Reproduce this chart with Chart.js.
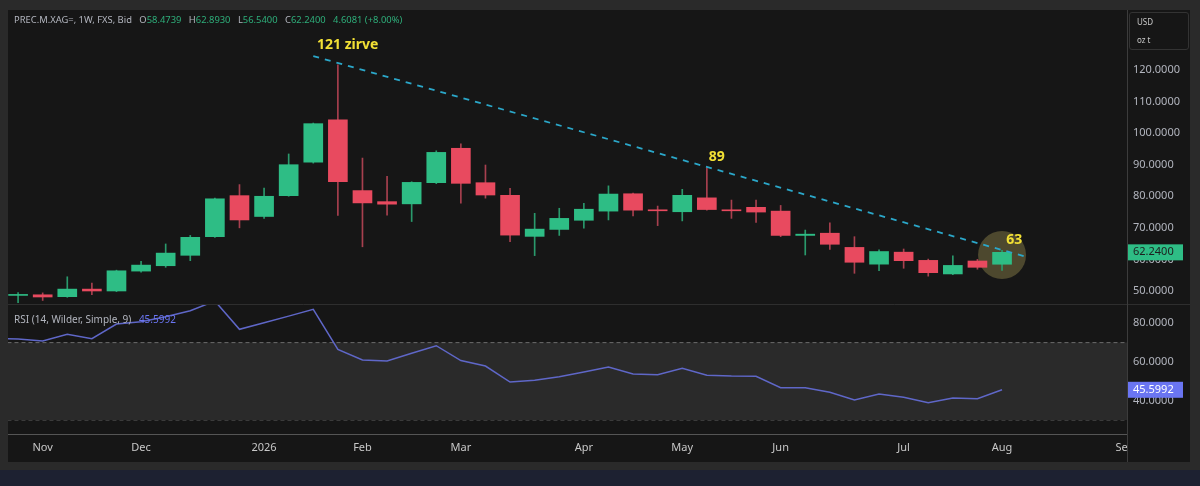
<!DOCTYPE html>
<html>
<head>
<meta charset="utf-8">
<script src="https://cdn.jsdelivr.net/npm/chart.js@4.4.1/dist/chart.umd.min.js"></script>
<style>
  html, body { margin: 0; padding: 0; background: #2a2a2a; }
  #wrap { position: relative; width: 1200px; height: 486px; overflow: hidden; font-family: "Noto Sans", sans-serif; }
  #chart { position: absolute; left: 0; top: 0; }
  .legend { position: absolute; left: 14px; font-size: 9.4px; color: #b2b5be; white-space: nowrap; }
  .legend span { margin-left: 5px; }
  .legend .g { color: #2eae7a; margin-left: 0; font-weight: normal; }
  .legend .b { color: #6a75f2; }
  #unit { position: absolute; left: 1129px; top: 12px; width: 58px; height: 36px; border: 1px solid #333; border-radius: 3px; font-size: 8px; color: #c8c8c8; }
  #unit div { position: absolute; left: 7px; }
</style>
</head>
<body>
<div id="wrap">
  <canvas id="chart" width="1200" height="486"></canvas>
  <div class="legend" style="top:13px">PREC.M.XAG=, 1W, FXS, Bid
    <span>O<b class="g">58.4739</b></span>
    <span>H<b class="g">62.8930</b></span>
    <span>L<b class="g">56.5400</b></span>
    <span>C<b class="g">62.2400</b></span>
    <span class="g" style="margin-left:5px">4.6081 (+8.00%)</span>
  </div>
  <div class="legend" style="top:312px; font-size:10px">RSI (14, Wilder, Simple, 9) <span class="b">45.5992</span></div>
  <div id="unit"><div style="top:3px">USD</div><div style="top:21px">oz t</div></div>
</div>
<script>
(function () {
  'use strict';

  // weekly candles, week start dates
  const weeks = [
    '2025-10-27', '2025-11-03', '2025-11-10', '2025-11-17', '2025-11-24',
    '2025-12-01', '2025-12-08', '2025-12-15', '2025-12-22', '2025-12-29',
    '2026-01-05', '2026-01-12', '2026-01-19', '2026-01-26', '2026-02-02',
    '2026-02-09', '2026-02-16', '2026-02-23', '2026-03-02', '2026-03-09',
    '2026-03-16', '2026-03-23', '2026-03-30', '2026-04-06', '2026-04-13',
    '2026-04-20', '2026-04-27', '2026-05-04', '2026-05-11', '2026-05-18',
    '2026-05-25', '2026-06-01', '2026-06-08', '2026-06-15', '2026-06-22',
    '2026-06-29', '2026-07-06', '2026-07-13', '2026-07-20', '2026-07-27',
    '2026-08-03'
  ];
  const opens = [48.6, 48.8, 48.2, 50.6, 50.0, 56.3, 58.0, 61.3, 67.2, 80.2,
    73.6, 80.2, 90.8, 104.2, 81.8, 78.3, 77.6, 84.3, 95.2, 84.3,
    80.3, 67.3, 69.5, 72.4, 75.3, 80.8, 75.7, 75.1, 79.5, 75.7,
    76.5, 75.3, 67.6, 68.3, 63.8, 58.5, 62.3, 59.7, 55.4, 59.5, 58.4739];
  const highs = [49.5, 49.4, 54.5, 52.5, 56.6, 59.4, 64.9, 67.6, 79.4, 83.7,
    82.6, 93.4, 103.2, 121.6, 92.1, 86.3, 84.6, 94.4, 96.6, 89.9,
    82.5, 74.6, 76.2, 77.8, 83.3, 81.0, 76.9, 82.2, 89.1, 78.8,
    78.8, 77.1, 69.3, 71.6, 67.2, 63.0, 63.3, 60.1, 61.1, 60.0, 62.893];
  const lows = [46.3, 47.0, 48.0, 48.8, 49.8, 56.0, 57.5, 59.6, 67.0, 70.0,
    73.0, 80.0, 90.5, 73.9, 64.0, 74.0, 72.0, 84.0, 77.8, 79.4,
    65.6, 61.2, 67.6, 69.9, 72.5, 73.8, 70.7, 72.2, 75.6, 73.0,
    71.7, 67.2, 61.4, 63.2, 55.6, 56.4, 57.2, 54.7, 55.2, 56.9, 56.54];
  const closes = [48.9, 48.1, 50.6, 50.0, 56.4, 58.2, 62.0, 67.0, 79.2, 72.5,
    80.0, 90.0, 103.0, 84.6, 77.9, 77.5, 84.4, 93.9, 84.1, 80.4,
    67.7, 69.6, 73.0, 75.9, 80.7, 75.6, 75.4, 80.3, 75.8, 75.4,
    75.0, 67.6, 68.0, 64.8, 59.1, 62.5, 59.6, 55.8, 58.1, 57.5, 62.24];

  // RSI(14): first value belongs to the week before weeks[0]
  const rsi = [72.1, 71.9, 70.8, 74.3, 72.0, 79.6, 80.8, 83.4, 86.5, 91.5, 76.9,
    80.3, 83.7, 87.2, 66.5, 61.0, 60.5, 64.5, 68.4, 60.7, 57.9,
    49.6, 50.5, 52.4, 54.8, 57.4, 53.8, 53.4, 56.7, 53.1, 52.7,
    52.6, 46.7, 46.7, 44.3, 40.3, 43.4, 41.7, 38.9, 41.4, 41.0, 45.6];
  const rsiLast = 45.5992;
  const rsiBands = [70, 30];

  // x axis: month labels sit on the first weekly bar of each month
  const monthTicks = [1, 5, 10, 14, 18, 23, 27, 31, 36, 40, 45];
  const monthLabels = ['Nov', 'Dec', '2026', 'Feb', 'Mar', 'Apr', 'May', 'Jun', 'Jul', 'Aug', 'Sep'];
  const priceTicks = [50, 60, 70, 80, 90, 100, 110, 120];
  const rsiTicks = [40, 60, 80];

  // drawn trend line (week index, price) and text notes
  const trendWeeks = [12, 41];
  const trendPrices = [124.4, 60.8];
  const notes = [
    { text: '121 zirve', week: 13.4, price: 127.9 },
    { text: '89', week: 28.4, price: 92.4 },
    { text: '63', week: 40.5, price: 66.1 }
  ];

  const UP = '#2ebd85', DOWN = '#e84a5f';
  const UP_WICK = '#2a9a6c', DOWN_WICK = '#a8404f';
  const FONT = '"Noto Sans", sans-serif';
  const PRICE_H = 294, RSI_H = 130;   // pane heights in px

  const isUp = closes.map((c, i) => c >= opens[i]);
  const bodies = weeks.map((w, i) => ({ x: i, y: [opens[i], closes[i]] }));
  const wicks = weeks.map((w, i) => ({ x: i, y: [lows[i], highs[i]] }));
  const rsiPts = rsi.map((v, i) => ({ x: i - 1, y: v }));

  const frame = {
    id: 'frame',
    beforeDraw(chart) {
      const c = chart.ctx;
      c.save();
      c.fillStyle = '#2a2a2a';
      c.fillRect(0, 0, 1200, 486);
      c.fillStyle = '#1d2131';
      c.fillRect(0, 470, 1200, 16);
      c.fillStyle = '#161616';
      c.fillRect(8, 10, 1182, 452);
      c.restore();
    },
    afterDatasetsDraw(chart) {
      const c = chart.ctx, xs = chart.scales.x, ys = chart.scales.y;
      c.save();
      c.fillStyle = '#f2e035';
      c.font = 'bold 14px ' + FONT;
      c.textAlign = 'center';
      c.textBaseline = 'middle';
      notes.forEach(n => c.fillText(n.text, xs.getPixelForValue(n.week), ys.getPixelForValue(n.price)));
      c.restore();
    },
    afterDraw(chart) {
      const c = chart.ctx, a = chart.chartArea;
      const ys = chart.scales.y, y2 = chart.scales.y2;
      const split = Math.round(ys.bottom);
      c.save();
      // cut the last month label at the plot edge
      c.fillStyle = '#161616';
      c.fillRect(a.right + 1, a.bottom + 1, 1190 - a.right - 1, 462 - a.bottom - 1);
      c.lineWidth = 1;
      c.strokeStyle = '#2e2e2e';
      c.beginPath();
      c.moveTo(8, split + 0.5);
      c.lineTo(1190, split + 0.5);
      c.stroke();
      c.strokeStyle = '#3c3c3c';
      c.beginPath();
      c.moveTo(a.right + 0.5, 10);
      c.lineTo(a.right + 0.5, 462);
      c.stroke();

      // last value tags
      c.font = '11px ' + FONT;
      c.textBaseline = 'middle';
      const last = closes[closes.length - 1];
      let py = ys.getPixelForValue(last);
      c.fillStyle = UP;
      c.fillRect(a.right + 1, py - 8, 55, 16);
      c.fillStyle = '#1e1e1e';
      c.fillText(last.toFixed(4), a.right + 6, py);
      py = y2.getPixelForValue(rsi[rsi.length - 1]);
      c.fillStyle = '#6a75f2';
      c.fillRect(a.right + 1, py - 8, 55, 16);
      c.fillStyle = '#ffffff';
      c.fillText(rsiLast.toFixed(4), a.right + 6, py);
      c.restore();
    }
  };

  const tickFont = { family: FONT, size: 11 };
  const noPadV = s => { s.width = 63; s.paddingTop = 0; s.paddingBottom = 0; };

  new Chart(document.getElementById('chart'), {
    type: 'bar',
    data: {
      datasets: [
        {
          type: 'line', data: trendWeeks.map((w, i) => ({ x: w, y: trendPrices[i] })),
          borderColor: '#2ba7c9', borderWidth: 1.8, borderDash: [6, 6],
          pointRadius: 0, yAxisID: 'y', order: 1
        },
        {
          data: bodies, backgroundColor: isUp.map(u => u ? UP : DOWN),
          barThickness: 19, grouped: false, minBarLength: 1, yAxisID: 'y', order: 2
        },
        {
          data: wicks, backgroundColor: isUp.map(u => u ? UP_WICK : DOWN_WICK),
          barThickness: 1, grouped: false, yAxisID: 'y', order: 3
        },
        {
          type: 'bubble', data: [{ x: 40, y: 61.4, r: 24 }],
          backgroundColor: 'rgba(175,160,90,0.36)', borderWidth: 0,
          yAxisID: 'y', order: 10
        },
        {
          type: 'line', data: rsiPts, borderColor: '#5f67c8', borderWidth: 1.5,
          pointRadius: 0, tension: 0, yAxisID: 'y2', order: 4
        },
        {
          type: 'line', data: [{ x: -1, y: rsiBands[0] }, { x: 46, y: rsiBands[0] }],
          borderColor: '#6b6b6b', borderWidth: 1, borderDash: [4, 3],
          backgroundColor: '#2a2a2a', fill: '+1',
          pointRadius: 0, yAxisID: 'y2', order: 20
        },
        {
          type: 'line', data: [{ x: -1, y: rsiBands[1] }, { x: 46, y: rsiBands[1] }],
          borderColor: '#6b6b6b', borderWidth: 1, borderDash: [4, 3],
          pointRadius: 0, yAxisID: 'y2', order: 21
        }
      ]
    },
    options: {
      responsive: false,
      animation: false,
      devicePixelRatio: 1,
      layout: { autoPadding: false, padding: { left: 8, top: 10, right: 10, bottom: 24 } },
      plugins: { legend: { display: false }, tooltip: { enabled: false } },
      scales: {
        x: {
          type: 'linear', position: 'bottom', offset: false, min: -0.41, max: 45.08,
          afterFit: s => { s.height = 28; s.paddingLeft = 0; s.paddingRight = 0; },
          afterBuildTicks: s => { s.ticks = monthTicks.map(v => ({ value: v })); },
          ticks: {
            autoSkip: false, maxRotation: 0, padding: 7, color: '#c8c8c8', font: tickFont,
            callback: (v, i) => monthLabels[i]
          },
          grid: { display: false, drawTicks: false },
          border: { display: true, color: '#555555' }
        },
        y: {
          type: 'linear', position: 'right', stack: 'panes', stackWeight: PRICE_H,
          min: 45.88, max: 139.0,
          afterFit: noPadV,
          afterBuildTicks: s => { s.ticks = priceTicks.map(v => ({ value: v })); },
          ticks: { autoSkip: false, padding: 6, color: '#b2b5be', font: tickFont, callback: v => v.toFixed(4) },
          grid: { display: false, drawTicks: false },
          border: { display: false }
        },
        y2: {
          type: 'linear', position: 'right', stack: 'panes', stackWeight: RSI_H,
          min: 22.73, max: 89.98,
          afterFit: noPadV,
          afterBuildTicks: s => { s.ticks = rsiTicks.map(v => ({ value: v })); },
          ticks: { autoSkip: false, padding: 6, color: '#b2b5be', font: tickFont, callback: v => v.toFixed(4) },
          grid: { display: false, drawTicks: false },
          border: { display: false }
        }
      }
    },
    plugins: [frame]
  });
})();
</script>
</body>
</html>
